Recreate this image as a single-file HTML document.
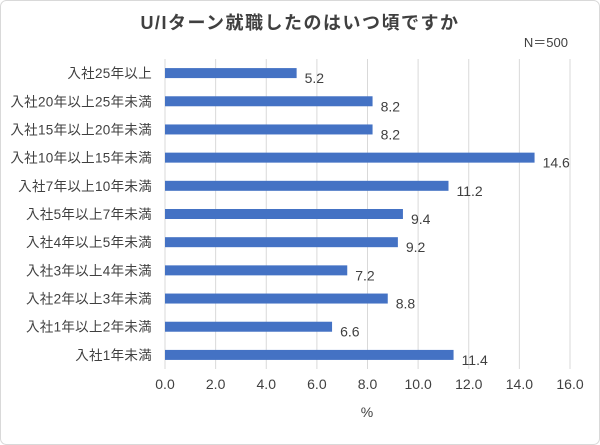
<!DOCTYPE html>
<html><head><meta charset="utf-8"><style>
body{margin:0;background:#fff;}
svg{display:block;font-family:"Liberation Sans","Noto Sans CJK JP",sans-serif;}
</style></head><body>
<svg id="chart" width="600" height="445" viewBox="0 0 600 445" xmlns="http://www.w3.org/2000/svg">
<rect x="0.5" y="0.5" width="599" height="444" rx="6" fill="#fff" stroke="#d9d9d9"/>
<text x="300" y="29" text-anchor="middle" font-size="18" letter-spacing="1.5" font-weight="bold" fill="#404040">U/Iターン就職したのはいつ頃ですか</text>
<text x="568" y="47" text-anchor="end" font-size="13" fill="#404040">N＝500</text>
<text x="367" y="417" text-anchor="middle" font-size="14" fill="#404040">%</text>
<g id="grid"></g><g id="bars"></g><g id="labels"></g>
</svg>
<script>
const categories=["入社25年以上","入社20年以上25年未満","入社15年以上20年未満","入社10年以上15年未満","入社7年以上10年未満","入社5年以上7年未満","入社4年以上5年未満","入社3年以上4年未満","入社2年以上3年未満","入社1年以上2年未満","入社1年未満"];
const values=[5.2,8.2,8.2,14.6,11.2,9.4,9.2,7.2,8.8,6.6,11.4];
const ticks=[0,2,4,6,8,10,12,14,16];
const tickLabels=["0.0","2.0","4.0","6.0","8.0","10.0","12.0","14.0","16.0"];
const NS="http://www.w3.org/2000/svg";
const x0=165,x1=570,vmax=16,yTop=59,yBot=369;
const xs=v=>x0+(v/vmax)*(x1-x0);
const band=(yBot-yTop)/categories.length;
const yc=i=>yTop+band*(i+0.5);
function mk(t,a,p){const e=document.createElementNS(NS,t);for(const k in a)e.setAttribute(k,a[k]);document.getElementById(p).appendChild(e);return e;}
ticks.forEach((t,i)=>{
 const l=mk('line',{x1:xs(t),x2:xs(t),y1:yTop,y2:yBot,stroke:'#d9d9d9','stroke-width':1},'grid');
 
 
 const tx=mk('text',{x:xs(t),y:389,'text-anchor':'middle','font-size':14,fill:'#404040'},'labels');
 tx.textContent=tickLabels[i];
 
 
});
categories.forEach((c,i)=>{
 const y=yc(i);
 const b=mk('rect',{x:x0,y:y-5,width:xs(values[i])-x0,height:10,fill:'#4472C4'},'bars');
 
 
 const cl=mk('text',{x:152,y:y+5,'text-anchor':'end','font-size':13.5,'letter-spacing':0.3,fill:'#404040'},'labels');
 cl.textContent=c;
 
 
 const vl=mk('text',{x:xs(values[i])+8,y:y+10,'font-size':14,fill:'#404040'},'labels');
 vl.textContent=values[i].toFixed(1);
 
 
});
</script>
</body></html>
